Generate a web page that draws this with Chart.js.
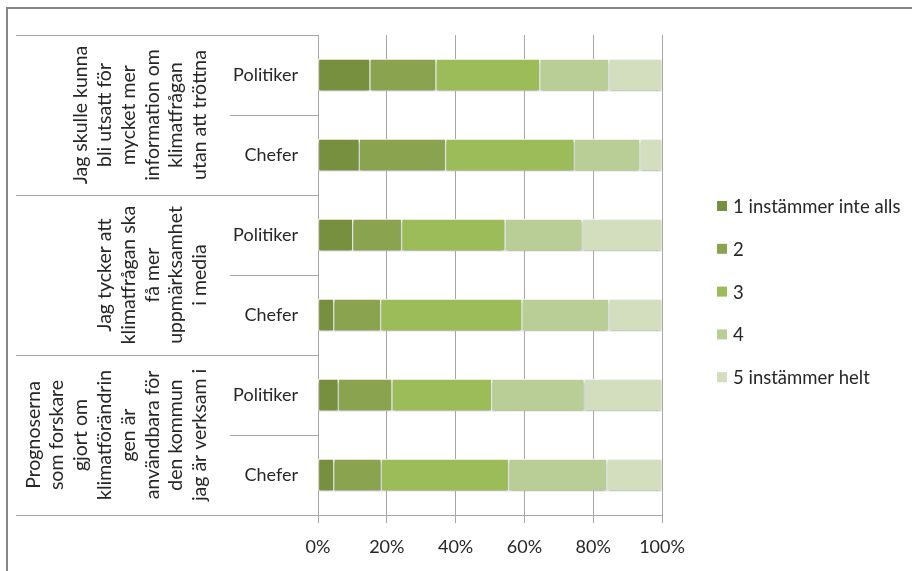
<!DOCTYPE html>
<html>
<head>
<meta charset="utf-8">
<script src="https://cdn.jsdelivr.net/npm/chart.js@4"></script>
<style>
  html, body { margin: 0; padding: 0; background: #fff; }
  #wrap { position: relative; width: 912px; height: 571px; }
</style>
</head>
<body>
<div id="wrap"><canvas id="chart" width="912" height="571"></canvas></div>
<script>
// rows (top to bottom)
const categories = ['Politiker', 'Chefer', 'Politiker', 'Chefer', 'Politiker', 'Chefer'];

// question text for each pair of rows, already wrapped as in the original
const groupLabels = [
    ['Jag skulle kunna', 'bli utsatt för', 'mycket mer', 'information om', 'klimatfrågan', 'utan att tröttna'],
    ['Jag tycker att', 'klimatfrågan ska', 'få mer', 'uppmärksamhet', 'i media'],
    ['Prognoserna', 'som forskare', 'gjort om', 'klimatförändrin', 'gen är', 'användbara för', 'den kommun', 'jag är verksam i']
];

const seriesNames = ['1 instämmer inte alls', '2', '3', '4', '5 instämmer helt'];

// share of answers (%) per row
const answer1 = [15.1, 12.0, 10.1, 4.6, 5.9, 4.6];
const answer2 = [19.2, 25.1, 14.2, 13.6, 15.6, 13.8];
const answer3 = [30.2, 37.4, 30.1, 41.1, 29.0, 37.0];
const answer4 = [20.1, 19.1, 22.4, 25.3, 26.9, 28.6];
const answer5 = [15.4, 6.4, 23.2, 15.4, 22.6, 16.0];

const xTicks = [0, 20, 40, 60, 80, 100];

const colors = ['#76903F', '#89A34F', '#9CBB59', '#B9CD97', '#D2DEBE'];
const FONT = 'Lato, "Liberation Sans", sans-serif';
const TEXT = '#262626';
const LINE = '#A6A6A6';

const seriesValues = [answer1, answer2, answer3, answer4, answer5];

// frame, question column, table lines and legend
const tablePlugin = {
    id: 'table',
    beforeDatasetsDraw(chart) {
        const ctx = chart.ctx;
        ctx.save();
        ctx.shadowColor = 'rgba(0,0,0,0.35)';
        ctx.shadowBlur = 3;
        ctx.shadowOffsetY = 2;
    },
    afterDatasetsDraw(chart) {
        chart.ctx.restore();
    },
    afterDraw(chart) {
        const ctx = chart.ctx;
        const area = chart.chartArea;
        const y = chart.scales.y;
        const step = y.getPixelForValue(1) - y.getPixelForValue(0);

        ctx.save();
        // outer frame
        ctx.strokeStyle = '#858585';
        ctx.lineWidth = 2;
        ctx.beginPath();
        ctx.moveTo(7, 571);
        ctx.lineTo(7, 8);
        ctx.lineTo(912, 8);
        ctx.stroke();

        // table lines left of the plot
        ctx.strokeStyle = LINE;
        ctx.lineWidth = 1;
        ctx.beginPath();
        for (let i = 0; i <= categories.length; i++) {
            const py = Math.round(y.getPixelForValue(i) - step / 2) + 0.5;
            const x0 = i % 2 === 0 ? 16 : 230;
            ctx.moveTo(x0, py);
            ctx.lineTo(area.left, py);
        }
        ctx.stroke();

        // rotated question text
        ctx.fillStyle = TEXT;
        ctx.font = '19.5px ' + FONT;
        ctx.textAlign = 'center';
        ctx.textBaseline = 'middle';
        groupLabels.forEach((lines, g) => {
            const cy = (y.getPixelForValue(g * 2) + y.getPixelForValue(g * 2 + 1)) / 2;
            ctx.save();
            ctx.translate(200, cy);
            ctx.rotate(-Math.PI / 2);
            lines.forEach((t, i) => {
                ctx.fillText(t, 0, (i - (lines.length - 1)) * 23.8);
            });
            ctx.restore();
        });

        // legend
        ctx.font = '18.5px ' + FONT;
        ctx.textAlign = 'left';
        seriesNames.forEach((name, i) => {
            const cy = 206 + i * 42.8;
            ctx.fillStyle = colors[i];
            ctx.fillRect(717, cy - 5, 10, 10);
            ctx.fillStyle = TEXT;
            ctx.fillText(name, 733, cy + 1);
        });
        ctx.restore();
    }
};

new Chart(document.getElementById('chart'), {
    type: 'bar',
    data: {
        labels: categories,
        datasets: seriesNames.map((name, i) => ({
            label: name,
            data: seriesValues[i],
            backgroundColor: colors[i],
            borderColor: '#ffffff',
            borderWidth: 1,
            borderSkipped: false,
            barThickness: 32
        }))
    },
    options: {
        indexAxis: 'y',
        responsive: false,
        animation: false,
        layout: { padding: { left: 0, top: 35, right: 250, bottom: 0 } },
        plugins: {
            legend: { display: false },
            tooltip: { enabled: false }
        },
        scales: {
            x: {
                stacked: true,
                min: 0,
                max: 100,
                afterBuildTicks: (s) => { s.ticks = xTicks.map(v => ({ value: v })); },
                afterFit: (s) => { s.height = 56; },
                grid: { color: LINE, tickLength: 8, drawOnChartArea: true },
                border: { color: LINE },
                ticks: {
                    color: TEXT,
                    padding: 13,
                    font: { family: FONT, size: 18 },
                    callback: (v) => v + '%'
                }
            },
            y: {
                stacked: true,
                afterFit: (s) => { s.width = 318; },
                grid: { display: false },
                border: { color: LINE },
                ticks: {
                    color: TEXT,
                    padding: 12,
                    font: { family: FONT, size: 18 }
                }
            }
        }
    },
    plugins: [tablePlugin]
});
</script>
</body>
</html>
